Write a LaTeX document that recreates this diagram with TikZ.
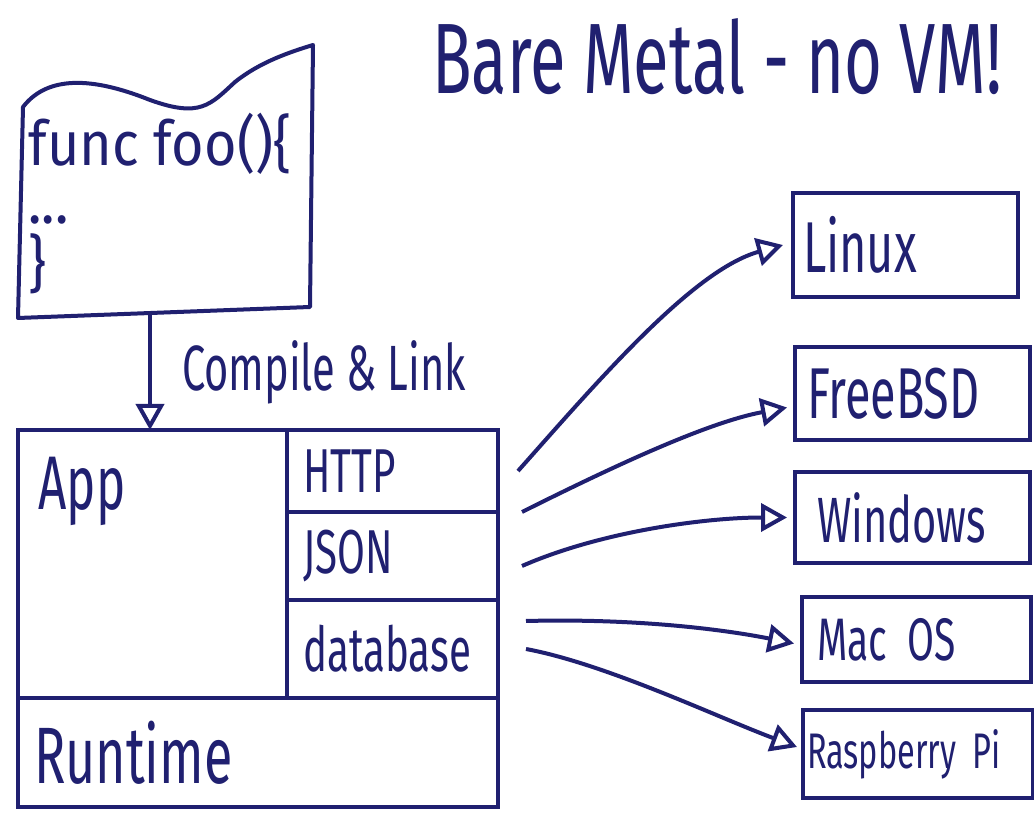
\documentclass[tikz,border=0pt]{standalone}
\usepackage{fontspec}
\setmainfont{Fira Sans}[FakeStretch=0.65]
\newfontfamily\codefont{Fira Sans}[FakeStretch=0.9]
\usepackage{tikz}
\usetikzlibrary{arrows.meta, positioning}
\definecolor{ink}{RGB}{32,32,112}
\newcommand{\handfont}[1]{\fontsize{#1}{#1}\selectfont}

\begin{document}
\begin{tikzpicture}[
    x=0.5pt, y=-0.5pt,
]
\tikzset{
    pen/.style = {draw=ink, line width=2pt},
    part/.style = {pen, inner sep=0pt, outer sep=0pt, text=ink, align=left},
    hand/.style = {text=ink, inner sep=0pt},
    flow/.style = {pen, -{Triangle[open, length=13pt, width=14pt]}},
}

\useasboundingbox (0,0) rectangle (1034,817);
\fill[white] (0,0) rectangle (1034,817);

% Title
\node[hand, font=\handfont{50}] (title) at (717,57) {Bare Metal - no VM!};

% Source code sheet
\draw[pen, line join=round] (18,318) -- (23,107)
    .. controls (50,72) and (100,80) .. (150,100)
    .. controls (200,118) and (210,105) .. (235,82)
    .. controls (260,62) and (290,52) .. (313,45)
    -- (310,307) -- cycle;
\node[hand, font=\codefont\fontsize{31}{29}\selectfont, align=left, anchor=north west] (code) at (28,113) {func foo()\{\\...\\[2pt]\}};
\coordinate (codebot) at (150,314);

% Binary: app, libraries, runtime
\node[part, minimum width=134.5pt, minimum height=134pt] (app) at (152.5,564) {};
\node[hand, font=\handfont{38}, below right=13.5pt and 10pt of app.north west] (apptxt) {App};
\node[part, minimum height=41pt, text width=89.5pt, inner xsep=8pt, font=\handfont{31}] (http) at (392.5,471) {HTTP};
\node[part, minimum height=44pt, text width=89.5pt, inner xsep=8pt, font=\handfont{31}] (json) at (392.5,556) {JSON};
\node[part, minimum height=49pt, text width=89.5pt, inner xsep=8pt, font=\handfont{31}] (db) at (392.5,649) {database};
\node[part, minimum height=54.5pt, text width=224pt, inner xsep=8pt, font=\handfont{40}] (runtime) at (258,752.5) {Runtime};

% Compile step
\draw[flow] (codebot) -- (codebot |- app.north)
    node[midway, right=13pt, hand, inner sep=2pt, font=\handfont{32}] (compile) {Compile \& Link};

% Target systems
\node[part, minimum height=52pt, text width=102.5pt, inner xsep=5pt, font=\handfont{36}] (linux) at (905.5,245) {Linux};
\node[part, minimum height=46.5pt, text width=105.5pt, inner xsep=6pt, font=\handfont{36}] (bsd) at (912.5,393.5) {FreeBSD};
\node[part, minimum height=45.5pt, text width=95.5pt, inner xsep=11pt, font=\handfont{32}] (win) at (912.5,517.5) {Windows};
\node[part, minimum height=42.5pt, text width=99.5pt, inner xsep=7.5pt, font=\handfont{30}] (mac) at (916.5,639.5) {Mac OS};
\node[part, minimum height=44pt, text width=111pt, inner xsep=2pt, font=\handfont{25}] (pi) at (918,754) {Raspberry Pi};

% Deploy arrows
\draw[flow] ([xshift=10pt]http.east) .. controls +(80,-90) and +(-90,25) .. ([xshift=-5pt]linux.west);
\draw[flow] ([xshift=12pt]http.south east) .. controls +(90,-45) and +(-80,15) .. ([xshift=-4pt, yshift=-7pt]bsd.west);
\draw[flow] ([xshift=12pt, yshift=-5pt]json.east) .. controls +(80,-35) and +(-80,0) .. ([xshift=-4pt]win.west);
\draw[flow] ([xshift=14pt, yshift=14pt]db.east) .. controls +(120,-3) and +(-60,-12) .. ([xshift=-4pt, yshift=-2pt]mac.west);
\draw[flow] ([xshift=14pt]db.east) .. controls +(80,15) and +(-80,-30) .. ([xshift=-3pt, yshift=3.5pt]pi.west);

\end{tikzpicture}
\end{document}
